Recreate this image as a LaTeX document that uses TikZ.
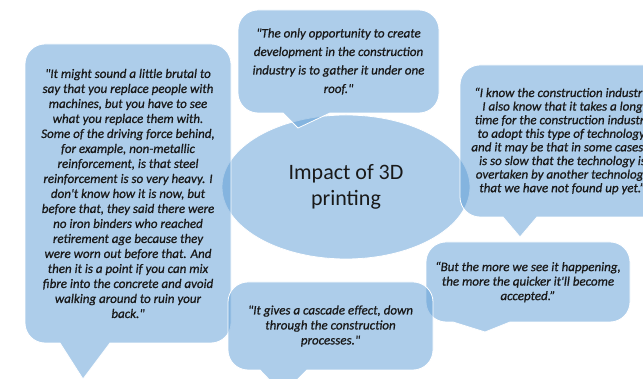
\documentclass[tikz,border=0pt]{standalone}
\usepackage{fontspec}
\setmainfont{Carlito}
\newfontfamily\quotefont{Carlito Italic}[FakeBold=0.8]
\usepackage{tikz}
\usetikzlibrary{calc}

\definecolor{bubbleblue}{RGB}{91,155,213}
\pgfdeclarelayer{background}
\pgfsetlayers{background,main}

% speech bubble behind node #1, tail from #2 to #3 (measured from the west side), tip at #4
\newcommand\bubble[4]{%
	\path[shade fill] ($(#1.north west)+(20,0)$) -- ($(#1.north east)-(20,0)$)
		arc[start angle=90,end angle=0,radius=20pt] -- ($(#1.south east)+(0,20)$)
		arc[start angle=0,end angle=-90,radius=20pt] -- ($(#1.south west)+(#3,0)$)
		-- (#4) -- ($(#1.south west)+(#2,0)$) -- ($(#1.south west)+(20,0)$)
		arc[start angle=270,end angle=180,radius=20pt] -- ($(#1.north west)-(0,20)$)
		arc[start angle=180,end angle=90,radius=20pt] -- cycle;}

\begin{document}
\begin{tikzpicture}[x=1pt,y=1pt,
		every node/.style={inner sep=0pt,outer sep=0pt,align=center,text=black!90},
		quote/.style={font=\quotefont\fontsize{13}{#1}\selectfont},
		shade fill/.style={fill=bubbleblue,fill opacity=0.5,draw=white,line width=0.8pt}]
	\useasboundingbox (0,0) rectangle (643,379);
	\clip (0,0) rectangle (643,379);
	
	\node (impact) at (346,192) [font=\fontsize{22}{26}\selectfont] {Impact of 3D\\printing};
	
	\node (brutal) at (128,185.5) [minimum width=206pt,minimum height=299pt,quote=15pt]
	{"It might sound a little brutal to\\
		say that you replace people with\\
		machines, but you have to see\\
		what you replace them with.\\
		Some of the driving force behind,\\
		for example, non-metallic\\
		reinforcement, is that steel\\
		reinforcement is so very heavy. I\\
		don't know how it is now, but\\
		before that, they said there were\\
		no iron binders who reached\\
		retirement age because they\\
		were worn out before that. And\\
		then it is a point if you can mix\\
		fibre into the concrete and avoid\\
		walking around to ruin your\\
		back."};
	\node (roof) at (338.5,317.5) [minimum width=201pt,minimum height=103pt,quote=18.5pt]
	{"The only opportunity to create\\
		development in the construction\\
		industry is to gather it under one\\
		roof."};
	\node (slow) at (562.5,238) [minimum width=205pt,minimum height=152pt,quote=13.6pt]
	{“I know the construction industry,\\
		I also know that it takes a long\\
		time for the construction industry\\
		to adopt this type of technology,\\
		and it may be that in some cases it\\
		is so slow that the technology is\\
		overtaken by another technology\\
		that we have not found up yet.”};
	\node (accepted) at (528,97) [minimum width=204pt,minimum height=80pt,quote=14.5pt]
	{“But the more we see it happening,\\
		the more the quicker it'll become\\
		accepted.”};
	\node (cascade) at (330.5,53) [minimum width=205pt,minimum height=88pt,quote=15pt]
	{"It gives a cascade effect, down\\
		through the construction\\
		processes."};
	
	\begin{pgfonlayer}{background}
		\clip (0,0) rectangle (643,379);
		\path[shade fill] (impact.center) ellipse [x radius=124,y radius=72];
		\bubble{brutal}{35}{85}{83,0}
		\bubble{roof}{45}{92}{298,251}
		\bubble{slow}{43}{77}{520,142}
		\bubble{accepted}{27}{84}{485,47}
		\bubble{cascade}{32}{79}{283,-15}
	\end{pgfonlayer}
\end{tikzpicture}
\end{document}
